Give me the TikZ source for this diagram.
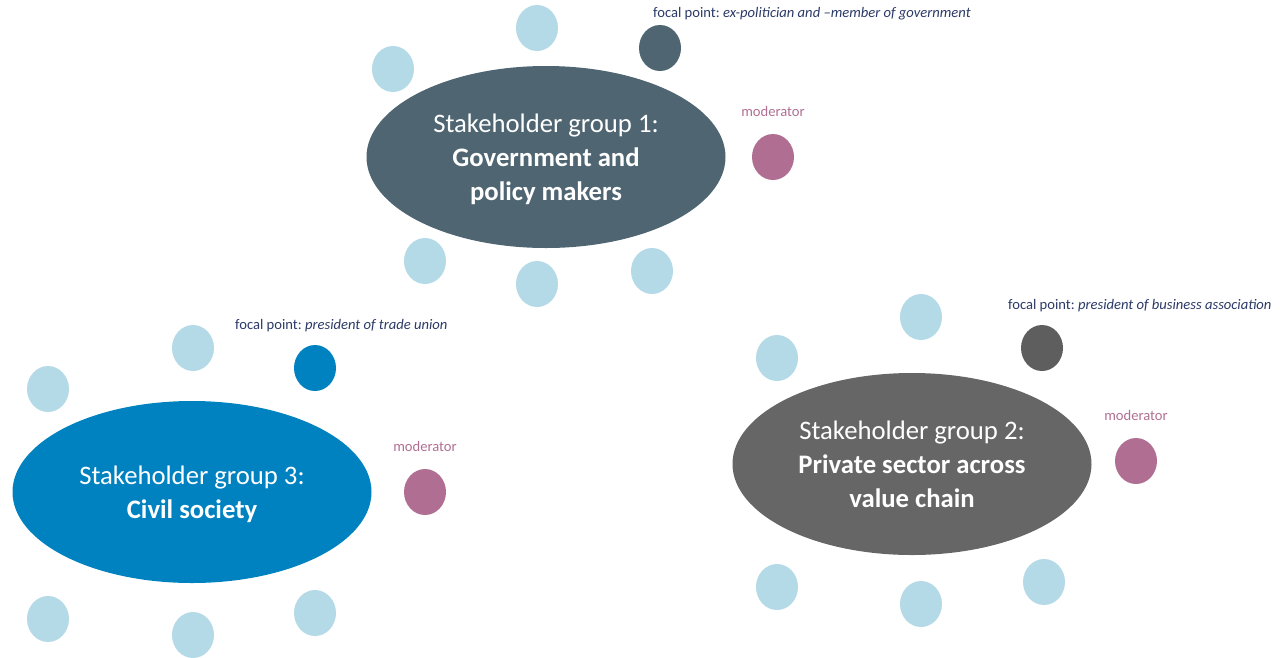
\documentclass[tikz,border=0pt]{standalone}
\usepackage{fontspec}
\setmainfont{Carlito}
\usetikzlibrary{shapes.geometric}
\definecolor{slate}{HTML}{4F6672}
\definecolor{civblue}{HTML}{0082C0}
\definecolor{privgray}{HTML}{666666}
\definecolor{focalgray}{HTML}{5E5E5E}
\definecolor{member}{HTML}{B3DAE6}
\definecolor{modpink}{HTML}{B06F92}
\definecolor{navy}{HTML}{2B3A67}
\tikzset{
  group/.style={ellipse, minimum width=359pt, minimum height=182pt, inner sep=0pt,
                text depth=0pt, text=white, align=center, font=\fontsize{26.7}{34}\selectfont},
  seat/.style={ellipse, minimum width=42pt, minimum height=46pt, inner sep=0pt},
  small/.style={font=\fontsize{14.6}{17}\selectfont, inner sep=0pt},
}
\frenchspacing

\begin{document}
\begin{tikzpicture}[x=1pt,y=-1pt]
          \useasboundingbox (0,0) rectangle (1280,657);
          \node[group, fill=slate] (g1) at (546,157) {Stakeholder group 1:\\\textbf{Government and}\\\textbf{policy makers}};
          \node[group, fill=privgray] (g2) at (912,464) {Stakeholder group 2:\\\textbf{Private sector across}\\\textbf{value chain}};
          \node[group, fill=civblue] (g3) at (192,492) {Stakeholder group 3:\\\textbf{Civil society}};
          \foreach \x/\y [count=\i] in {537/28, 393/69, 425/261, 537/284, 652/271,
                                       921/317, 777/358, 777/587, 921/604, 1044/582,
                                       193/348, 48/389, 48/619, 193/635, 315/613}
          \node[seat, fill=member] (m\i) at (\x,\y) {};
          \node[seat, fill=slate] (f1) at (660,48) {};
          \node[seat, fill=focalgray] (f2) at (1042,348) {};
          \node[seat, fill=civblue] (f3) at (315,368) {};
          \foreach \x/\y [count=\i] in {773/157, 1136/461, 425/492}{
          \node[seat, fill=modpink] (mod\i) at (\x,\y) {};
          \node[small, text=modpink] (modl\i) at (\x,\y-46) {moderator};}
          \node[small, text=navy, anchor=west] (fl1) at (653,14) {focal point: \textit{ex-politician and --member of government}};
          \node[small, text=navy, anchor=west] (fl2) at (1008,306) {focal point: \textit{president of business association}};
          \node[small, text=navy, anchor=west] (fl3) at (235,326) {focal point: \textit{president of trade union}};
        \end{tikzpicture}
\end{document}
